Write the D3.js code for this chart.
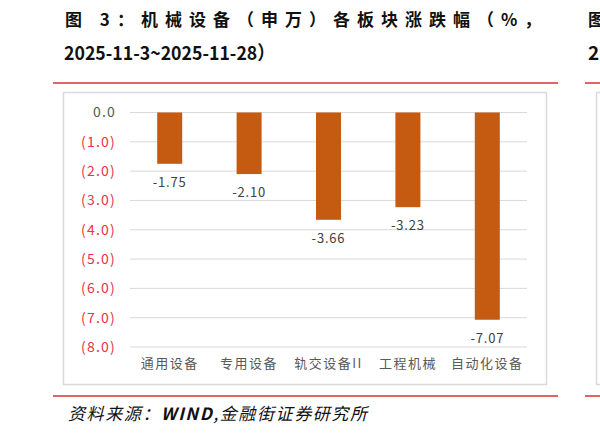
<!DOCTYPE html>
<html>
<head>
<meta charset="utf-8">
<script src="https://cdn.jsdelivr.net/npm/d3@7"></script>
<style>
  body { margin: 0; background: #fff; }
  svg { display: block; }
</style>
</head>
<body>
<div id="chart"></div>
<script>
// data
const categories = ['通用设备', '专用设备', '轨交设备II', '工程机械', '自动化设备'];
const changes = [-1.75, -2.10, -3.66, -3.23, -7.07];
const yTicks = [0, -1, -2, -3, -4, -5, -6, -7, -8];
const titleLine1 = '图 3：机械设备（申万）各板块涨跌幅（%，';
const titleLine2 = '2025-11-3~2025-11-28）';
const sourceParts = ['资料来源：', 'WIND', ',金融街证券研究所'];

const W = 600, H = 433;
const cjk = '"Noto Sans CJK SC", "Noto Sans", sans-serif';

const svg = d3.select('#chart').append('svg')
    .attr('width', W)
    .attr('height', H);

// title
svg.append('text')
    .attr('x', 65)
    .attr('y', 26)
    .attr('font-family', cjk)
    .attr('font-size', 17)
    .attr('font-weight', 'bold')
    .attr('letter-spacing', 7)
    .attr('fill', '#111')
    .text(titleLine1);

// second line is set in a condensed face in the reference: squeeze it
svg.append('text')
    .attr('x', 64)
    .attr('y', 60)
    .attr('font-family', cjk)
    .attr('font-size', 19)
    .attr('font-weight', 'bold')
    .attr('textLength', 211)
    .attr('lengthAdjust', 'spacingAndGlyphs')
    .attr('fill', '#111')
    .text(titleLine2);

// slivers of the neighbour figure at the right edge
svg.append('text').attr('x', 588).attr('y', 26)
    .attr('font-family', cjk).attr('font-size', 17).attr('font-weight', 'bold')
    .attr('fill', '#111').text('图');
svg.append('text').attr('x', 588).attr('y', 60)
    .attr('font-family', cjk).attr('font-size', 19).attr('font-weight', 'bold')
    .attr('fill', '#111').text('2');

// red rules
const red = '#e06666';
[[53, 558, 83], [585, 600, 83], [53, 558, 396], [585, 600, 396]].forEach(r => {
    svg.append('line')
        .attr('x1', r[0]).attr('x2', r[1])
        .attr('y1', r[2]).attr('y2', r[2])
        .attr('stroke', red).attr('stroke-width', 2);
});

// chart frame
svg.append('rect')
    .attr('x', 63.5).attr('y', 92.5)
    .attr('width', 483).attr('height', 292)
    .attr('fill', '#fff').attr('stroke', '#d9d9d9').attr('stroke-width', 1.5);
svg.append('rect')
    .attr('x', 596.5).attr('y', 92.5)
    .attr('width', 20).attr('height', 292)
    .attr('fill', '#fff').attr('stroke', '#d9d9d9').attr('stroke-width', 1.5);

const margin = {left: 130, right: 73, top: 112.5, bottom: 86};
const width = W - margin.left - margin.right;

const xScale = d3.scaleBand()
    .domain(categories)
    .range([0, width])
    .paddingInner(0.685)
    .paddingOuter(0.3425);

const yScale = d3.scaleLinear()
    .domain([0, -8])
    .range([0, 234.5]);

const g = svg.append('g')
    .attr('transform', 'translate(' + margin.left + ',' + margin.top + ')');

// gridlines
g.append('g').selectAll('line')
    .data(yTicks)
    .join('line')
    .attr('x1', 0).attr('x2', width)
    .attr('y1', d => yScale(d)).attr('y2', d => yScale(d))
    .attr('stroke', '#d9d9d9').attr('stroke-width', 1);

// y axis
const yAxis = d3.axisLeft(yScale)
    .tickValues(yTicks)
    .tickSize(0)
    .tickPadding(14)
    .tickFormat(d => d === 0 ? '0.0' : '(' + Math.abs(d).toFixed(1) + ')');

g.append('g')
    .attr('class', 'y axis')
    .call(yAxis)
    .call(s => s.select('.domain').remove())
    .call(s => s.selectAll('text')
        .attr('font-family', cjk)
        .attr('font-size', 14)
        .attr('letter-spacing', 1.2)
        .attr('fill', d => d === 0 ? '#595959' : '#e8334a'));

// bars
g.append('g').selectAll('rect')
    .data(categories)
    .join('rect')
    .attr('x', d => xScale(d))
    .attr('width', xScale.bandwidth())
    .attr('y', yScale(0))
    .attr('height', (d, i) => yScale(changes[i]) - yScale(0))
    .attr('fill', '#c55a11');

// value labels
g.append('g').selectAll('text')
    .data(categories)
    .join('text')
    .attr('x', d => xScale(d) + xScale.bandwidth() / 2)
    .attr('y', (d, i) => yScale(changes[i]) + 23)
    .attr('text-anchor', 'middle')
    .attr('font-family', cjk)
    .attr('font-size', 13)
    .attr('letter-spacing', 0.8)
    .attr('fill', '#404040')
    .text((d, i) => changes[i].toFixed(2));

// x axis labels
const xAxis = d3.axisBottom(xScale).tickSize(0).tickPadding(12);
g.append('g')
    .attr('class', 'x axis')
    .attr('transform', 'translate(0,' + yScale(-8) + ')')
    .call(xAxis)
    .call(s => s.select('.domain').remove())
    .call(s => s.selectAll('text')
        .attr('font-family', cjk)
        .attr('font-size', 13)
        .attr('letter-spacing', 1.5)
        .attr('fill', '#595959'));

// source note
const src = svg.append('text')
    .attr('x', 68)
    .attr('y', 420)
    .attr('font-family', cjk)
    .attr('font-size', 17)
    .attr('font-style', 'italic')
    .attr('letter-spacing', 1.6)
    .attr('fill', '#111');
src.selectAll('tspan')
    .data(sourceParts)
    .join('tspan')
    .attr('font-weight', (d, i) => i === 1 ? 'bold' : 'normal')
    .text(d => d);
</script>
</body>
</html>
